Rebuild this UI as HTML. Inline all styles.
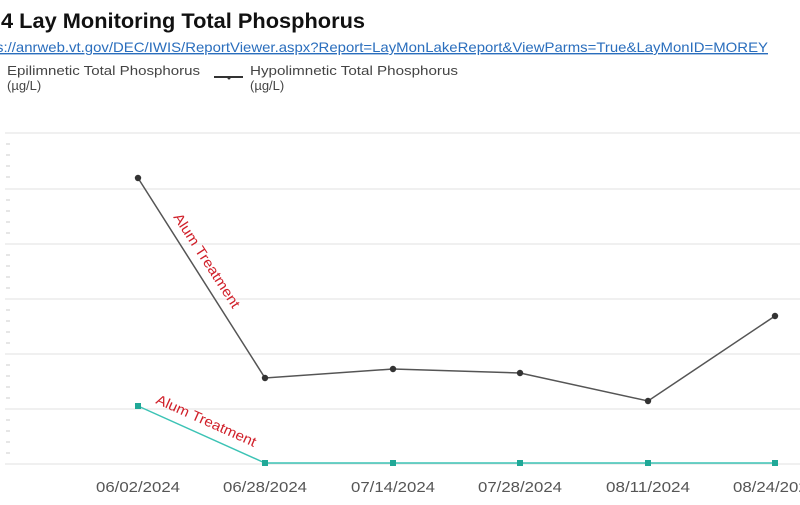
<!DOCTYPE html>
<html><head><meta charset="utf-8"><style>
body{margin:0;background:#fff;width:800px;height:500px;overflow:hidden;font-family:"Liberation Sans",sans-serif}
</style></head><body>
<svg width="800" height="500" xmlns="http://www.w3.org/2000/svg" font-family="Liberation Sans, sans-serif">
<text x="1" y="28" font-size="21" font-weight="bold" fill="#111" textLength="364" lengthAdjust="spacingAndGlyphs">4 Lay Monitoring Total Phosphorus</text>
<text x="-4" y="52" font-size="14" fill="#2a6ebd" text-decoration="underline" textLength="772" lengthAdjust="spacingAndGlyphs">s://anrweb.vt.gov/DEC/IWIS/ReportViewer.aspx?Report=LayMonLakeReport&amp;ViewParms=True&amp;LayMonID=MOREY</text>
<text x="7" y="75" font-size="13" fill="#444" textLength="193" lengthAdjust="spacingAndGlyphs">Epilimnetic Total Phosphorus</text>
<text x="7" y="90" font-size="13" fill="#444">(µg/L)</text>
<line x1="214" y1="77" x2="243" y2="77" stroke="#333" stroke-width="2"/>
<circle cx="229" cy="78" r="1.5" fill="#333"/>
<text x="250" y="75" font-size="13" fill="#444" textLength="208" lengthAdjust="spacingAndGlyphs">Hypolimnetic Total Phosphorus</text>
<text x="250" y="90" font-size="13" fill="#444">(µg/L)</text>
<g stroke="#e2e2e2" stroke-width="1">
<line x1="5" y1="133" x2="800" y2="133"/><line x1="5" y1="189" x2="800" y2="189"/>
<line x1="5" y1="244" x2="800" y2="244"/><line x1="5" y1="299" x2="800" y2="299"/>
<line x1="5" y1="354" x2="800" y2="354"/><line x1="5" y1="409" x2="800" y2="409"/>
<line x1="5" y1="464" x2="800" y2="464"/>
</g>
<g stroke="#ccc" stroke-width="1">
<line x1="6" y1="144" x2="10" y2="144"/><line x1="6" y1="155" x2="10" y2="155"/><line x1="6" y1="166" x2="10" y2="166"/><line x1="6" y1="177" x2="10" y2="177"/>
<line x1="6" y1="200" x2="10" y2="200"/><line x1="6" y1="211" x2="10" y2="211"/><line x1="6" y1="222" x2="10" y2="222"/><line x1="6" y1="233" x2="10" y2="233"/>
<line x1="6" y1="255" x2="10" y2="255"/><line x1="6" y1="266" x2="10" y2="266"/><line x1="6" y1="277" x2="10" y2="277"/><line x1="6" y1="288" x2="10" y2="288"/>
<line x1="6" y1="310" x2="10" y2="310"/><line x1="6" y1="321" x2="10" y2="321"/><line x1="6" y1="332" x2="10" y2="332"/><line x1="6" y1="343" x2="10" y2="343"/>
<line x1="6" y1="365" x2="10" y2="365"/><line x1="6" y1="376" x2="10" y2="376"/><line x1="6" y1="387" x2="10" y2="387"/><line x1="6" y1="398" x2="10" y2="398"/>
<line x1="6" y1="420" x2="10" y2="420"/><line x1="6" y1="431" x2="10" y2="431"/><line x1="6" y1="442" x2="10" y2="442"/><line x1="6" y1="453" x2="10" y2="453"/>
</g>
<polyline points="138,178 265,378 393,369 520,373 648,401 775,316" fill="none" stroke="#555" stroke-width="1.5"/>
<g fill="#333"><circle cx="138" cy="178" r="3.2"/><circle cx="265" cy="378" r="3.2"/><circle cx="393" cy="369" r="3.2"/><circle cx="520" cy="373" r="3.2"/><circle cx="648" cy="401" r="3.2"/><circle cx="775" cy="316" r="3.2"/></g>
<polyline points="138,406 265,463 393,463 520,463 648,463 775,463" fill="none" stroke="#3cc3b5" stroke-width="1.5"/>
<g fill="#20a897"><rect x="135" y="403" width="6" height="6"/><rect x="262" y="460" width="6" height="6"/><rect x="390" y="460" width="6" height="6"/><rect x="517" y="460" width="6" height="6"/><rect x="645" y="460" width="6" height="6"/><rect x="772" y="460" width="6" height="6"/></g>
<text transform="translate(173,217) rotate(57)" font-size="14" fill="#d0202a" textLength="110" lengthAdjust="spacingAndGlyphs">Alum Treatment</text>
<text transform="translate(155,403) rotate(24)" font-size="14" fill="#d0202a" textLength="108" lengthAdjust="spacingAndGlyphs">Alum Treatment</text>
<g font-size="15" fill="#555" text-anchor="middle">
<text x="138" y="492" textLength="84" lengthAdjust="spacingAndGlyphs">06/02/2024</text><text x="265" y="492" textLength="84" lengthAdjust="spacingAndGlyphs">06/28/2024</text><text x="393" y="492" textLength="84" lengthAdjust="spacingAndGlyphs">07/14/2024</text>
<text x="520" y="492" textLength="84" lengthAdjust="spacingAndGlyphs">07/28/2024</text><text x="648" y="492" textLength="84" lengthAdjust="spacingAndGlyphs">08/11/2024</text><text x="775" y="492" textLength="84" lengthAdjust="spacingAndGlyphs">08/24/2024</text>
</g>
</svg>
</body></html>
